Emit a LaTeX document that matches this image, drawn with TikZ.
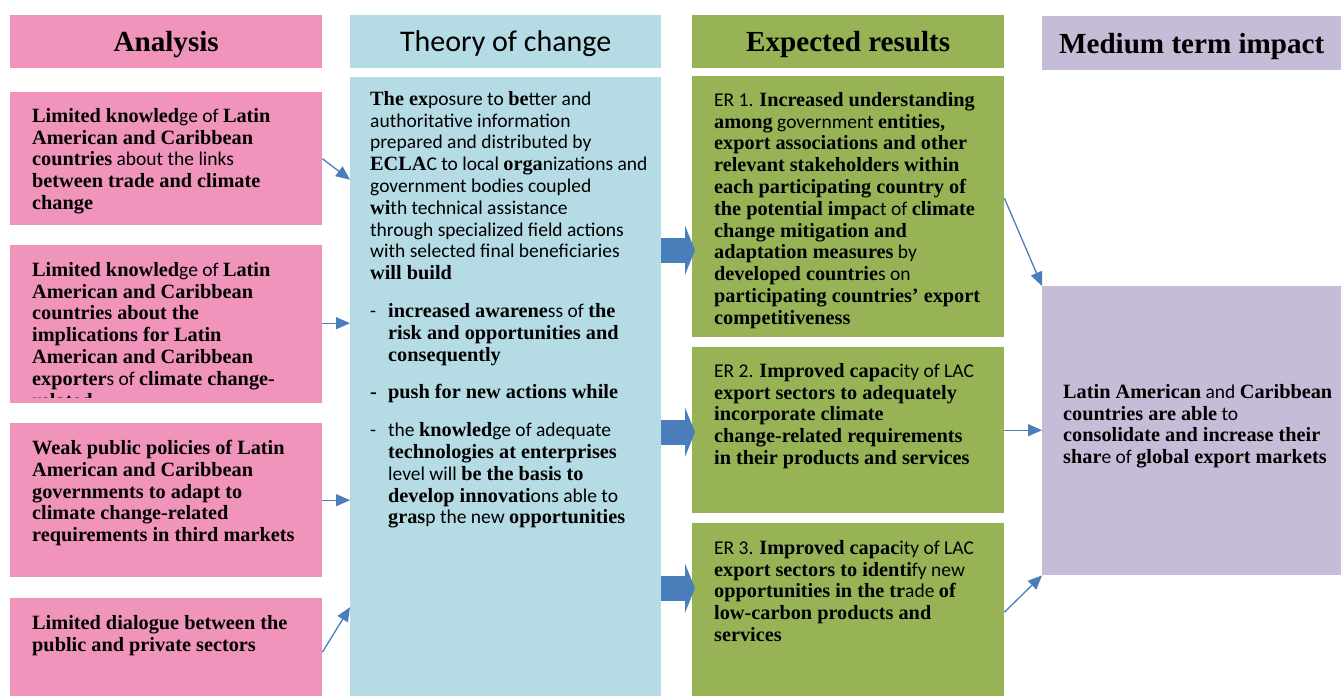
\documentclass[tikz,border=0pt]{standalone}
\usepackage{fontspec}
\setmainfont{Carlito}
\newfontfamily\serifbold{Liberation Serif}[Scale=1.04]
\usetikzlibrary{positioning,calc,arrows.meta}

\definecolor{analysispink}{HTML}{F094BC}
\definecolor{theoryblue}{HTML}{B5DBE5}
\definecolor{resultgreen}{HTML}{98B356}
\definecolor{impactlilac}{HTML}{C6BCD7}
\definecolor{arrowblue}{HTML}{4A7EBB}

% bold serif runs inside the plain sans text
\newcommand{\hl}[1]{{\serifbold\bfseries #1}}
\newcommand{\dashitem}{\makebox[18pt][l]{-}}
\newcommand{\indentitem}{\hspace*{18pt}}

\begin{document}
\begin{tikzpicture}[x=1pt, y=-1pt,
    box/.style={rectangle, anchor=north west, inner sep=0pt, minimum width=312pt},
    header/.style={box, minimum height=53pt, text height=20pt, text depth=0pt, font=\fontsize{28}{30}\selectfont},
    body/.style={inner sep=0pt, align=left, font=\fontsize{19.5}{21.8}\selectfont},
    arrow/.style={-{Triangle[length=14pt,width=12pt]}, line width=1.3pt, arrowblue},
    blockarrow/.style={-{Triangle[length=10pt,width=49pt]}, line width=25pt, arrowblue}
]
\useasboundingbox (0,0) rectangle (1341,696);

% column headers
\node[header, fill=analysispink] (hanalysis) at (10,15) {\hl{Analysis}};
\node[header, fill=theoryblue, minimum width=311pt, font=\fontsize{30}{34}\selectfont] (htheory) at (350,15) {Theory of change};
\node[header, fill=resultgreen] (hresults) at (692,15) {\hl{Expected results}};
\node[header, fill=impactlilac, minimum width=299pt, minimum height=54pt] (himpact) at (1042,16) {\hl{Medium term impact}};

% coloured boxes
\node[box, fill=analysispink, minimum height=133pt] (lim1) at (10,92) {};
\node[box, fill=analysispink, minimum height=158pt] (lim2) at (10,245) {};
\node[box, fill=analysispink, minimum height=154pt] (weak) at (10,423) {};
\node[box, fill=analysispink, minimum height=98pt] (dialog) at (10,598) {};
\node[box, fill=theoryblue, minimum width=311pt, minimum height=619pt] (toc) at (350,77) {};
\node[box, fill=resultgreen, minimum height=261pt] (er1) at (692,76) {};
\node[box, fill=resultgreen, minimum height=166pt] (er2) at (692,347) {};
\node[box, fill=resultgreen, minimum height=173pt] (er3) at (692,523) {};
\node[box, fill=impactlilac, minimum width=299pt, minimum height=289pt] (impact) at (1042,286) {};

% analysis texts
\node[body, below right=16pt and 22pt of lim1.north west] (lim1txt) {
    \hl{Limited knowled}ge of \hl{Latin}\\
    \hl{American and Caribbean}\\
    \hl{countries} about the links\\
    \hl{between trade and climate}\\
    \hl{change}};
\begin{scope}
% the last line runs past the bottom of the box
\clip (lim2.north west) rectangle ([yshift=6pt]lim2.south east);
\node[body, below right=17pt and 22pt of lim2.north west] (lim2txt) {
    \hl{Limited knowled}ge of \hl{Latin}\\
    \hl{American and Caribbean}\\
    \hl{countries about the}\\
    \hl{implications for Latin}\\
    \hl{American and Caribbean}\\
    \hl{exporter}s of \hl{climate change-}\\
    \hl{related}};
\end{scope}
\node[body, below right=17pt and 22pt of weak.north west] (weaktxt) {
    \hl{Weak public policies of Latin}\\
    \hl{American and Caribbean}\\
    \hl{governments to adapt to}\\
    \hl{climate change-related}\\
    \hl{requirements in third markets}};
\node[body, below right=17pt and 22pt of dialog.north west] (dialogtxt) {
    \hl{Limited dialogue between the}\\
    \hl{public and private sectors}};

% theory of change text
\node[body, below right=14pt and 20pt of toc.north west] (toctxt) {
    \hl{The ex}posure to \hl{be}tter and\\
    authoritative information\\
    prepared and distributed by\\
    \hl{ECLA}C to local \hl{orga}nizations and\\
    government bodies coupled\\
    \hl{wi}th technical assistance\\
    through specialized field actions\\
    with selected final beneficiaries\\
    \hl{will build}\\[16pt]
    \dashitem\hl{increased awarene}ss of \hl{the}\\
    \indentitem\hl{risk and opportunities and}\\
    \indentitem\hl{consequently}\\[16pt]
    \hl{\dashitem push for new actions while}\\[16pt]
    \dashitem the \hl{knowled}ge of adequate\\
    \indentitem\hl{technologies at enterprises}\\
    \indentitem level will \hl{be the basis to}\\
    \indentitem\hl{develop innovati}ons able to\\
    \indentitem\hl{gras}p the new \hl{opportunities}};

% expected results texts
\node[body, below right=16pt and 22pt of er1.north west] (er1txt) {
    ER 1. \hl{Increased understanding}\\
    \hl{among} government \hl{entities,}\\
    \hl{export associations and other}\\
    \hl{relevant stakeholders within}\\
    \hl{each participating country of}\\
    \hl{the potential impa}ct of \hl{climate}\\
    \hl{change mitigation and}\\
    \hl{adaptation measures} by\\
    \hl{developed countrie}s on\\
    \hl{participating countries’ export}\\
    \hl{competitiveness}};
\node[body, below right=16pt and 22pt of er2.north west] (er2txt) {
    ER 2. \hl{Improved capac}ity of LAC\\
    \hl{export sectors to adequately}\\
    \hl{incorporate climate}\\
    \hl{change-related requirements}\\
    \hl{in their products and services}};
\node[body, below right=17pt and 22pt of er3.north west] (er3txt) {
    ER 3. \hl{Improved capac}ity of LAC\\
    \hl{export sectors to identi}fy new\\
    \hl{opportunities in the tr}ade \hl{of}\\
    \hl{low-carbon products and}\\
    \hl{services}};

% impact text
\node[body, below right=98pt and 21pt of impact.north west] (impacttxt) {
    \hl{Latin American} and \hl{Caribbean}\\
    \hl{countries are able} to\\
    \hl{consolidate and increase their}\\
    \hl{shar}e of \hl{global export markets}};

% analysis -> theory of change
\draw[arrow] (lim1.east) -- ([yshift=-21pt]lim1.east -| toc.west);
\draw[arrow] ([yshift=1pt]lim2.east) -- ([yshift=1pt]lim2.east -| toc.west);
\draw[arrow] (weak.east) -- (weak.east -| toc.west);
\draw[arrow] ([yshift=-5pt]dialog.east) -- ([yshift=40pt]dialog.east -| toc.west);

% theory of change -> expected results
\draw[blockarrow] ([yshift=-43.5pt]er1.west -| toc.east) -- ([xshift=3pt,yshift=-43.5pt]er1.west);
\draw[blockarrow] ([yshift=-2pt]er2.west -| toc.east) -- ([xshift=3pt,yshift=-2pt]er2.west);
\draw[blockarrow] ([yshift=21.5pt]er3.west -| toc.east) -- ([xshift=3pt,yshift=21.5pt]er3.west);

% expected results -> impact
\draw[arrow] ([yshift=8.5pt]er1.east) -- (impact.north west);
\draw[arrow] (er2.east) -- (er2.east -| impact.west);
\draw[arrow] ([yshift=-2.5pt]er3.east) -- (impact.south west);

\end{tikzpicture}
\end{document}
